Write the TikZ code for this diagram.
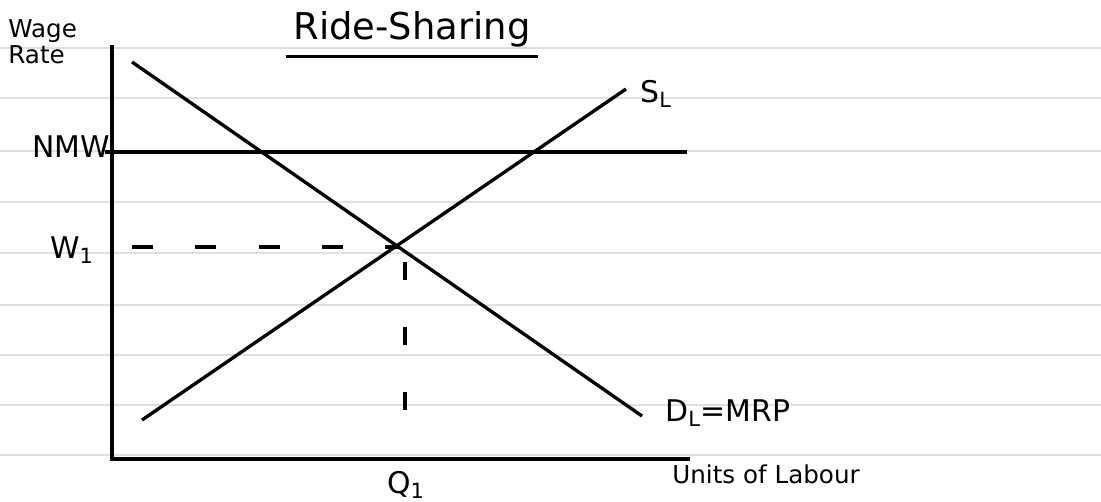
\documentclass[tikz,border=0pt]{standalone}
\usepackage{fontspec}
\setmainfont{DejaVu Sans}
\begin{document}
\begin{tikzpicture}[x=0.02cm,y=-0.02cm,
  rule/.style={draw=black!12,line width=1.2pt},
  curve/.style={draw=black,line width=1.9pt},
  guide/.style={draw=black,line width=1.9pt,dash pattern=on 12pt off 24pt},
  lab/.style={inner sep=0pt,font=\fontsize{17}{19}\selectfont},
  small/.style={inner sep=0pt,font=\fontsize{14}{15}\selectfont}]
\useasboundingbox (0,0) rectangle (1101,501);
\fill[white] (0,0) rectangle (1101,501);
% ruled paper
\foreach \yy in {48,98,151,202,253,305,355,405,455}
  \draw[rule] (0,\yy) -- (1101,\yy);
% axes
\coordinate (ytop) at (112,45);
\coordinate (origin) at (112,459);
\coordinate (xend) at (690,459);
\draw[curve] (ytop) -- (origin) -- (xend);
% NMW
\coordinate (nmwL) at (105,152);
\coordinate (nmwR) at (687,152);
\draw[curve] (nmwL) -- (nmwR);
% demand and supply
\coordinate (dA) at (132,62);
\coordinate (dB) at (642,416);
\coordinate (sA) at (142,420);
\coordinate (sB) at (626,89);
\draw[curve] (dA) -- (dB);
\draw[curve] (sA) -- (sB);
\coordinate (eq) at (400,247);
% dashed guides
\coordinate (w1L) at (132,247);
\draw[guide] (w1L) -- (eq);
\coordinate (q1B) at (405,442);
\coordinate (q1T) at (405,262);
\draw[draw=black,line width=1.9pt,dash pattern=on 10pt off 27pt] (q1T) -- (q1B);
% labels
\node[lab,anchor=south,font=\fontsize{21}{23}\selectfont] (title) at (412,48) {Ride-Sharing};
\draw[curve] ([xshift=-4pt,yshift=-5pt]title.south west) -- ([xshift=4pt,yshift=-5pt]title.south east);
\node[small,align=left,anchor=west] (ylab) at (8,42) {Wage\\Rate};
\node[lab,anchor=east] (nmw) at (110,147) {NMW};
\node[lab] (w1) at (72,250) {W\textsubscript{1}};
\node[lab] (q1) at (406,485) {Q\textsubscript{1}};
\node[lab,anchor=west] (sl) at (640,94) {S\textsubscript{L}};
\node[lab,anchor=west] (dl) at (665,413) {D\textsubscript{L}=MRP};
\node[small,anchor=west] (xlab) at (672,474) {Units of Labour};
\end{tikzpicture}
\end{document}
